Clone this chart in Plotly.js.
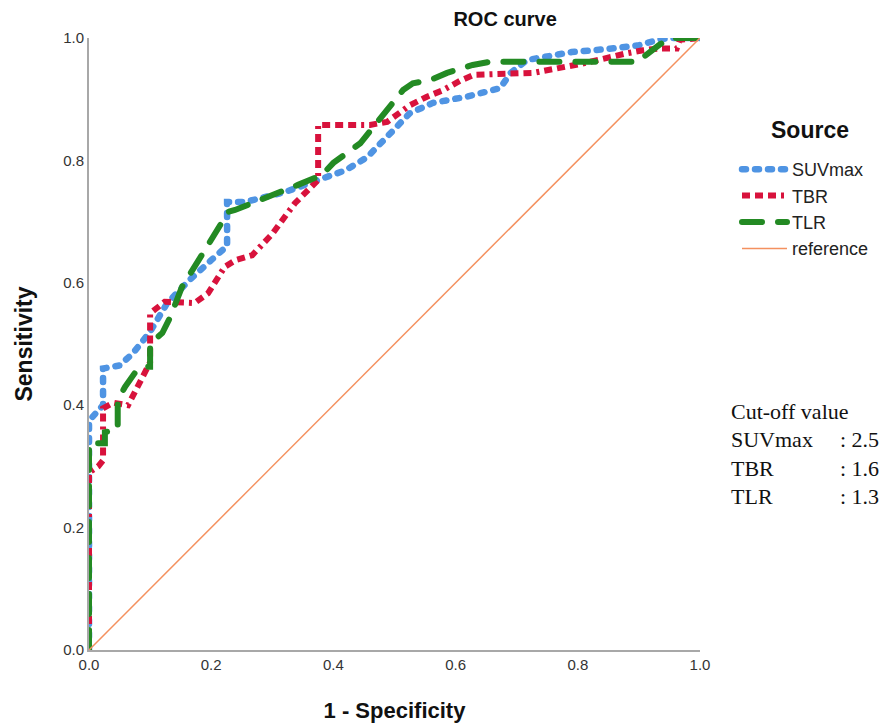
<!DOCTYPE html>
<html>
<head>
<meta charset="utf-8">
<script src="https://cdn.plot.ly/plotly-3.0.1.min.js"></script>
<style>
html,body{margin:0;padding:0;background:#fff;}
#chart{width:894px;height:727px;}
.scatterlayer .trace:nth-child(1) path.js-line{stroke-linecap:round !important;}
.scatterlayer .trace:nth-child(3) path.js-line{stroke-linecap:round !important;}
.legend .traces:nth-child(1) path.js-line{stroke-linecap:round !important;}
.legend .traces:nth-child(3) path.js-line{stroke-linecap:round !important;}
</style>
</head>
<body>
<div id="chart"></div>
<script>
// SUVmax
const suvX = [0, 0, 0.005, 0.023, 0.023, 0.05, 0.072, 0.10, 0.128, 0.165, 0.20, 0.218, 0.226, 0.226, 0.255, 0.32, 0.375, 0.42, 0.455, 0.498, 0.525, 0.563, 0.618, 0.673, 0.69, 0.717, 0.77, 0.79, 0.848, 0.90, 0.935, 0.95, 1];
const suvY = [0, 0.37, 0.38, 0.40, 0.46, 0.465, 0.485, 0.52, 0.567, 0.605, 0.637, 0.654, 0.66, 0.732, 0.732, 0.748, 0.768, 0.784, 0.805, 0.85, 0.877, 0.894, 0.904, 0.918, 0.943, 0.964, 0.972, 0.977, 0.982, 0.988, 0.998, 1, 1];
// TBR
const tbrX = [0, 0, 0.015, 0.023, 0.023, 0.04, 0.064, 0.075, 0.10, 0.10, 0.124, 0.173, 0.195, 0.222, 0.24, 0.267, 0.30, 0.337, 0.354, 0.375, 0.375, 0.46, 0.488, 0.525, 0.553, 0.58, 0.607, 0.63, 0.727, 0.76, 0.78, 0.807, 0.83, 0.856, 0.88, 0.907, 0.935, 0.962, 0.967, 1];
const tbrY = [0, 0.29, 0.30, 0.31, 0.395, 0.404, 0.40, 0.42, 0.47, 0.55, 0.569, 0.567, 0.583, 0.626, 0.637, 0.645, 0.68, 0.73, 0.748, 0.768, 0.858, 0.858, 0.863, 0.89, 0.904, 0.915, 0.93, 0.94, 0.943, 0.948, 0.953, 0.958, 0.964, 0.969, 0.975, 0.98, 0.983, 0.983, 0.997, 1];
// TLR
const tlrX = [0, 0, 0.026, 0.026, 0.047, 0.047, 0.059, 0.078, 0.092, 0.10, 0.10, 0.12, 0.133, 0.152, 0.19, 0.211, 0.228, 0.239, 0.26, 0.31, 0.342, 0.381, 0.40, 0.444, 0.493, 0.514, 0.53, 0.558, 0.586, 0.628, 0.656, 0.87, 0.897, 0.935, 0.955, 1];
const tlrY = [0, 0.338, 0.338, 0.356, 0.36, 0.408, 0.43, 0.457, 0.463, 0.463, 0.50, 0.518, 0.544, 0.593, 0.654, 0.686, 0.716, 0.719, 0.727, 0.747, 0.76, 0.776, 0.796, 0.828, 0.887, 0.915, 0.926, 0.931, 0.943, 0.956, 0.961, 0.961, 0.961, 0.99, 1, 1];
// reference diagonal
const refX = [0, 1];
const refY = [0, 1];

const seriesNames = ['SUVmax', 'TBR', 'TLR', 'reference'];
const legendTitle = 'Source';
const tickVals = [0, 0.2, 0.4, 0.6, 0.8, 1.0];
const cutoffHeader = 'Cut-off value';
const cutoffLabels = ['SUVmax', 'TBR', 'TLR'];
const cutoffValues = [': 2.5', ': 1.6', ': 1.3'];

const data = [
  {x: suvX, y: suvY, name: seriesNames[0], mode: 'lines', type: 'scatter',
   line: {color: '#4f94e3', width: 6.5, dash: '4px,9px'}},
  {x: tbrX, y: tbrY, name: seriesNames[1], mode: 'lines', type: 'scatter',
   line: {color: '#d8123c', width: 6, dash: '8px,5px,8px,5px,8px,5px,3px,5px'}},
  {x: tlrX, y: tlrY, name: seriesNames[2], mode: 'lines', type: 'scatter',
   line: {color: '#238a23', width: 6, dash: '20px,16px'}},
  {x: refX, y: refY, name: seriesNames[3], mode: 'lines', type: 'scatter',
   line: {color: '#f4915f', width: 1.5}}
];

const serif = 'Liberation Serif, Times New Roman, serif';
const cutFont = {family: serif, size: 22, color: '#111'};
const px2y = py => (650 - py) / 612;
const px2x = px => (px - 89) / 611;
const annotations = [
  {text: '<b>' + legendTitle + '</b>', xref: 'paper', yref: 'paper', x: px2x(810), y: px2y(130),
   xanchor: 'center', yanchor: 'middle', showarrow: false,
   font: {family: 'Liberation Sans, Arial, sans-serif', size: 23, color: '#111'}},
  {text: cutoffHeader, xref: 'paper', yref: 'paper', x: px2x(729), y: px2y(411),
   xanchor: 'left', yanchor: 'middle', showarrow: false, font: cutFont},
  {text: cutoffLabels.join('<br>'), xref: 'paper', yref: 'paper', x: px2x(729), y: px2y(425),
   xanchor: 'left', yanchor: 'top', align: 'left', showarrow: false, font: cutFont},
  {text: cutoffValues.join('<br>'), xref: 'paper', yref: 'paper', x: px2x(838), y: px2y(425),
   xanchor: 'left', yanchor: 'top', align: 'left', showarrow: false, font: cutFont}
];

const layout = {
  width: 894, height: 727,
  margin: {l: 89, r: 194, t: 38, b: 77},
  paper_bgcolor: '#fff', plot_bgcolor: '#fff',
  font: {family: 'Liberation Sans, Arial, sans-serif', color: '#222'},
  title: {text: '<b>ROC curve</b>', xref: 'container', x: 0.565, xanchor: 'center',
          yref: 'container', y: 1 - 19/727, yanchor: 'middle',
          font: {size: 20, color: '#111'}},
  xaxis: {range: [0, 1], tickvals: tickVals, tickformat: '.1f', ticks: '',
          showgrid: false, zeroline: false, showline: true, linecolor: '#a8a8a8', linewidth: 2,
          layer: 'below traces', tickfont: {size: 15, color: '#333'},
          title: {text: '<b>1 - Specificity</b>', font: {size: 22, color: '#111'}, standoff: 31}},
  yaxis: {range: [0, 1], tickvals: tickVals, tickformat: '.1f', ticks: '',
          showgrid: false, zeroline: false, showline: true, linecolor: '#a8a8a8', linewidth: 2,
          layer: 'below traces', tickfont: {size: 15, color: '#333'},
          title: {text: '<b>Sensitivity</b>', font: {size: 23, color: '#111'}, standoff: 24}},
  showlegend: true,
  legend: {x: px2x(737), xanchor: 'left', y: px2y(151), yanchor: 'top',
           font: {size: 18, color: '#222'}, tracegroupgap: 0, itemwidth: 45,
           bgcolor: 'rgba(0,0,0,0)'},
  annotations: annotations
};

Plotly.newPlot('chart', data, layout, {displayModeBar: false, staticPlot: true});
</script>
</body>
</html>
